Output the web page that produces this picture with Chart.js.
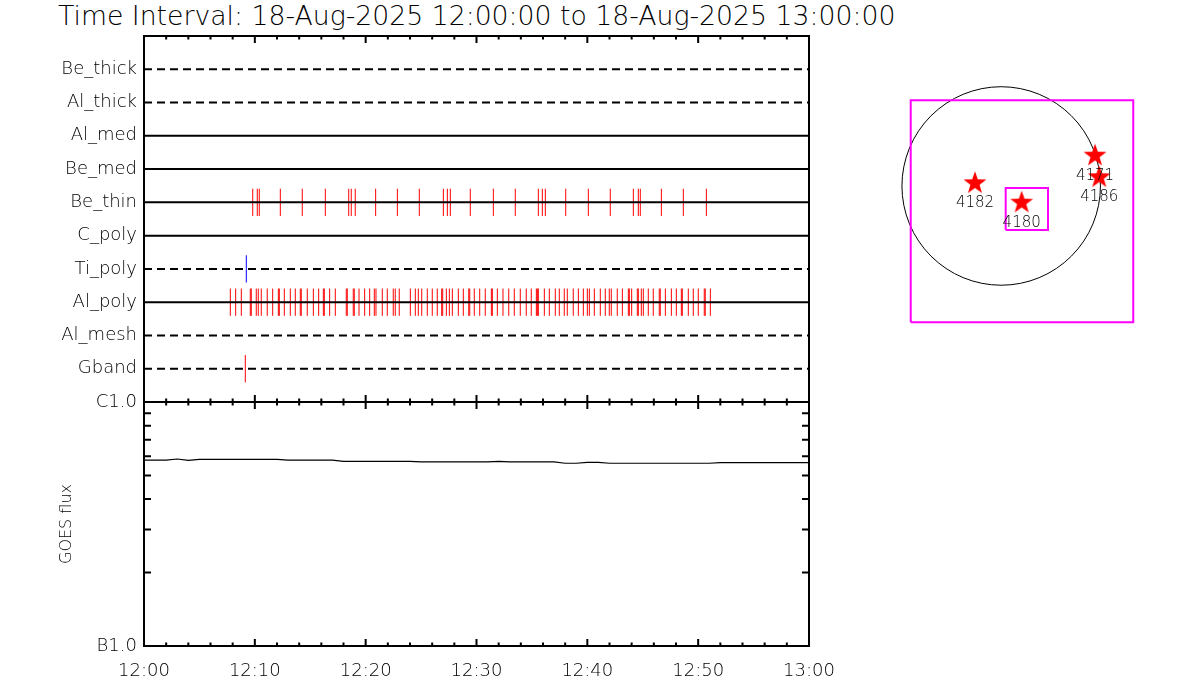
<!DOCTYPE html>
<html>
<head>
<meta charset="utf-8">
<script src="https://cdn.jsdelivr.net/npm/chart.js@4"></script>
<style>
body { margin: 0; width: 1200px; height: 700px; background: #fff; position: relative; overflow: hidden; font-family: 'DejaVu Sans'; }
canvas { position: absolute; }
#title { position: absolute; left: 58px; top: 3px; font-size: 26.7px; font-weight: 200; line-height: 26px; white-space: nowrap; color: #000; }
</style>
</head>
<body>
<div id="title">Time Interval: 18-Aug-2025 12:00:00 to 18-Aug-2025 13:00:00</div>
<canvas id="filterChart" width="860" height="404" style="left:0;top:0"></canvas>
<canvas id="goesChart" width="860" height="320" style="left:0;top:380px"></canvas>
<canvas id="sunChart" width="280" height="280" style="left:880px;top:70px"></canvas>
<script>
/* filter rows, top to bottom */
const rowNames = ['Be_thick', 'Al_thick', 'Al_med', 'Be_med', 'Be_thin', 'C_poly', 'Ti_poly', 'Al_poly', 'Al_mesh', 'Gband'];
const rowDashed = [true, true, false, false, false, false, true, false, true, true];

/* exposure times, minutes after 12:00 */
const beThinTimes = [9.81, 10.22, 10.40, 12.30, 14.28, 16.36, 18.47, 18.70, 19.06, 20.90, 22.86, 24.84,
    27.01, 27.37, 27.64, 29.44, 31.52, 33.50, 35.58, 35.94, 36.21, 38.05, 40.09, 42.07, 44.15, 44.60,
    44.78, 46.68, 48.66, 50.74];
const alPolyTimes = [7.79, 8.27, 8.78, 9.59, 9.68, 10.13, 10.31, 10.58, 11.12, 11.61, 12.12, 12.21, 12.66,
    13.20, 13.65, 14.10, 14.19, 14.73, 15.28, 15.76, 16.18, 16.27, 16.75, 17.26, 18.25, 18.34, 18.88,
    18.97, 19.40, 19.91, 20.36, 20.78, 20.93, 21.50, 21.95, 22.49, 22.67, 23.03, 24.03, 24.48, 24.75,
    25.06, 25.56, 26.01, 26.46, 26.86, 26.95, 27.28, 27.55, 27.82, 28.36, 28.81, 29.30, 29.39, 29.80,
    30.29, 30.79, 31.34, 31.43, 31.88, 32.39, 32.91, 33.41, 33.95, 34.49, 34.94, 35.40, 35.49, 35.58,
    36.12, 36.57, 37.11, 37.47, 37.92, 38.19, 38.73, 39.19, 39.64, 40.00, 40.18, 40.63, 41.17, 41.62,
    41.98, 42.16, 42.70, 43.16, 43.70, 43.79, 44.00, 44.51, 44.60, 44.87, 45.05, 45.50, 45.95, 46.49,
    46.58, 47.04, 47.58, 48.03, 48.48, 48.57, 49.11, 49.56, 50.01, 50.55, 50.64, 51.10];
const tiPolyTimes = [9.23];
const gbandTimes = [9.14];

/* time axis */
const timeTickMinutes = [0, 10, 20, 30, 40, 50, 60];
const timeTickLabels = ['12:00', '12:10', '12:20', '12:30', '12:40', '12:50', '13:00'];

/* GOES 1-8 A flux, one value per minute */
const goesMinutes = [0, 1, 2, 3, 4, 5, 6, 7, 8, 9, 10, 11, 12, 13, 14, 15, 16, 17, 18, 19, 20, 21, 22, 23,
    24, 25, 26, 27, 28, 29, 30, 31, 32, 33, 34, 35, 36, 37, 38, 39, 40, 41, 42, 43, 44, 45, 46, 47, 48,
    49, 50, 51, 52, 53, 54, 55, 56, 57, 58, 59, 60];
const goesFlux = [5.78e-7, 5.78e-7, 5.78e-7, 5.84e-7, 5.77e-7, 5.82e-7, 5.82e-7, 5.82e-7, 5.82e-7, 5.82e-7,
    5.82e-7, 5.82e-7, 5.82e-7, 5.78e-7, 5.78e-7, 5.78e-7, 5.78e-7, 5.78e-7, 5.71e-7, 5.71e-7, 5.71e-7,
    5.71e-7, 5.71e-7, 5.71e-7, 5.71e-7, 5.68e-7, 5.68e-7, 5.68e-7, 5.68e-7, 5.68e-7, 5.68e-7, 5.68e-7,
    5.71e-7, 5.68e-7, 5.68e-7, 5.68e-7, 5.68e-7, 5.68e-7, 5.61e-7, 5.61e-7, 5.66e-7, 5.66e-7, 5.61e-7,
    5.61e-7, 5.61e-7, 5.61e-7, 5.61e-7, 5.61e-7, 5.61e-7, 5.61e-7, 5.61e-7, 5.61e-7, 5.64e-7, 5.64e-7,
    5.64e-7, 5.64e-7, 5.64e-7, 5.64e-7, 5.64e-7, 5.64e-7, 5.64e-7];
const goesTickValues = [1e-7, 1e-6];
const goesTickLabels = ['B1.0', 'C1.0'];
const goesMinorTicks = [2e-7, 3e-7, 4e-7, 5e-7, 6e-7, 7e-7, 8e-7, 9e-7];

/* solar map, arcsec from disk centre */
const sunRadius = 950;
const regionNumbers = ['4182', '4180', '4171', '4186'];
const regionX = [-251, 196, 898, 939];
const regionY = [26, -160, 290, 83];
const fovXMin = [-866, 43];
const fovXMax = [1264, 448];
const fovYMin = [-1305, -421];
const fovYMax = [820, -19];

Chart.defaults.font.family = "'DejaVu Sans'";
Chart.defaults.font.weight = 200;
Chart.defaults.color = '#000';

const TICK_HALF = 0.41;

/* frame with inward IDL style ticks */
const framePlugin = {
    id: 'frame',
    afterDatasetsDraw(chart, args, opts) {
        const {ctx, chartArea: a, scales} = chart;
        ctx.save();
        ctx.strokeStyle = '#000';
        ctx.lineWidth = 2;
        ctx.strokeRect(a.left, a.top, a.right - a.left, a.bottom - a.top);
        ctx.beginPath();
        for (let m = 0; m <= 60; m += 2) {
            const px = scales.x.getPixelForValue(m);
            const len = m % 10 === 0 ? 7 : 3.5;
            ctx.moveTo(px, a.top);
            ctx.lineTo(px, a.top + len);
            ctx.moveTo(px, a.bottom);
            ctx.lineTo(px, a.bottom - len);
        }
        for (const v of (opts.yMinor || [])) {
            const py = scales.y.getPixelForValue(v);
            ctx.moveTo(a.left, py);
            ctx.lineTo(a.left + 7, py);
            ctx.moveTo(a.right, py);
            ctx.lineTo(a.right - 7, py);
        }
        ctx.stroke();
        ctx.restore();
    }
};

function tickSegments(times, row) {
    const pts = [];
    for (const t of times) {
        pts.push({x: t, y: row - TICK_HALF}, {x: t, y: row + TICK_HALF}, {x: t, y: null});
    }
    return pts;
}

const rowValue = (name) => rowNames.length - rowNames.indexOf(name);

/* fixed axis sizes so the panels line up */
const fixWidth = (w) => (scale) => { scale.width = w; scale.paddingTop = 0; scale.paddingBottom = 0; };
const fixHeight = (h) => (scale) => { scale.height = h; scale.paddingLeft = 0; scale.paddingRight = 0; };

const filterDatasets = [];
rowNames.forEach((name, i) => {
    const v = rowValue(name);
    filterDatasets.push({
        data: [{x: 0, y: v}, {x: 60, y: v}],
        borderColor: '#000',
        borderWidth: 2,
        borderDash: rowDashed[i] ? [8, 5] : [],
        pointRadius: 0,
        order: 0
    });
});
const events = [
    {name: 'Be_thin', times: beThinTimes, color: '#ff0000'},
    {name: 'Ti_poly', times: tiPolyTimes, color: '#0000ff'},
    {name: 'Al_poly', times: alPolyTimes, color: '#ff0000'},
    {name: 'Gband', times: gbandTimes, color: '#ff0000'}
];
events.forEach(ev => {
    filterDatasets.push({
        data: tickSegments(ev.times, rowValue(ev.name)),
        borderColor: ev.color,
        borderWidth: 1,
        pointRadius: 0,
        spanGaps: false,
        order: 1
    });
});

new Chart(document.getElementById('filterChart'), {
    type: 'line',
    data: {datasets: filterDatasets},
    plugins: [framePlugin],
    options: {
        responsive: false,
        animation: false,
        events: [],
        layout: {autoPadding: false, padding: {left: 0, top: 36, right: 51, bottom: 2}},
        scales: {
            x: {type: 'linear', min: 0, max: 60, display: false},
            y: {
                type: 'linear',
                min: 0,
                max: 11,
                grid: {display: false, drawTicks: false, tickLength: 0},
                border: {display: false},
                afterBuildTicks: (scale) => {
                    scale.ticks = rowNames.map(n => ({value: rowValue(n)}));
                },
                afterFit: fixWidth(144),
                ticks: {
                    padding: 7,
                    font: {size: 18},
                    callback: (v) => rowNames[rowNames.length - v]
                }
            }
        },
        plugins: {legend: {display: false}, tooltip: {enabled: false}}
    }
});

new Chart(document.getElementById('goesChart'), {
    type: 'line',
    data: {
        datasets: [{
            data: goesMinutes.map((m, i) => ({x: m, y: goesFlux[i]})),
            borderColor: '#000',
            borderWidth: 1.2,
            pointRadius: 0
        }]
    },
    plugins: [framePlugin],
    options: {
        responsive: false,
        animation: false,
        events: [],
        layout: {autoPadding: false, padding: {left: 0, top: 22, right: 51, bottom: 0}},
        scales: {
            x: {
                type: 'linear',
                min: 0,
                max: 60,
                grid: {display: false, drawTicks: false, tickLength: 0},
                border: {display: false},
                afterBuildTicks: (scale) => {
                    scale.ticks = timeTickMinutes.map(v => ({value: v}));
                },
                afterFit: fixHeight(54),
                ticks: {
                    padding: 15,
                    maxRotation: 0,
                    autoSkip: false,
                    font: {size: 18},
                    callback: (v) => timeTickLabels[timeTickMinutes.indexOf(v)]
                }
            },
            y: {
                type: 'logarithmic',
                min: 1e-7,
                max: 1e-6,
                grid: {display: false, drawTicks: false, tickLength: 0},
                border: {display: false},
                afterBuildTicks: (scale) => {
                    scale.ticks = goesTickValues.map(v => ({value: v}));
                },
                afterFit: fixWidth(144),
                ticks: {
                    padding: 7,
                    font: {size: 18},
                    callback: (v) => goesTickLabels[goesTickValues.indexOf(v)]
                },
                title: {
                    display: true,
                    text: 'GOES flux',
                    font: {size: 16},
                    padding: {top: 57, bottom: 0}
                }
            }
        },
        plugins: {
            legend: {display: false},
            tooltip: {enabled: false},
            frame: {yMinor: goesMinorTicks}
        }
    }
});

/* filled five point star for the region markers */
function makeStar(rOut, rIn, color) {
    const c = document.createElement('canvas');
    const size = Math.ceil(rOut * 2) + 2;
    c.width = c.height = size;
    const g = c.getContext('2d');
    g.fillStyle = color;
    g.beginPath();
    for (let i = 0; i < 10; i++) {
        const r = i % 2 ? rIn : rOut;
        const ang = -Math.PI / 2 + i * Math.PI / 5;
        g.lineTo(size / 2 + r * Math.cos(ang), size / 2 + r * Math.sin(ang));
    }
    g.closePath();
    g.fill();
    return c;
}

const limbPlugin = {
    id: 'limb',
    beforeDatasetsDraw(chart) {
        const {ctx, scales: {x, y}} = chart;
        const cx = x.getPixelForValue(0);
        const cy = y.getPixelForValue(0);
        const r = x.getPixelForValue(sunRadius) - cx;
        ctx.save();
        ctx.strokeStyle = '#000';
        ctx.lineWidth = 1;
        ctx.beginPath();
        ctx.arc(cx, cy, r, 0, 2 * Math.PI);
        ctx.stroke();
        ctx.restore();
    }
};

const regionLabelPlugin = {
    id: 'regionLabels',
    afterDatasetsDraw(chart) {
        const {ctx} = chart;
        const meta = chart.getDatasetMeta(fovXMin.length);
        ctx.save();
        ctx.fillStyle = '#000';
        ctx.font = "200 15px 'DejaVu Sans'";
        ctx.textAlign = 'center';
        ctx.textBaseline = 'middle';
        meta.data.forEach((pt, i) => {
            ctx.fillText(regionNumbers[i], pt.x, pt.y + 20);
        });
        ctx.restore();
    }
};

const sunDatasets = fovXMin.map((x0, i) => ({
    data: [
        {x: x0, y: fovYMin[i]}, {x: fovXMax[i], y: fovYMin[i]},
        {x: fovXMax[i], y: fovYMax[i]}, {x: x0, y: fovYMax[i]}, {x: x0, y: fovYMin[i]}
    ],
    showLine: true,
    borderColor: '#ff00ff',
    borderWidth: 2,
    pointRadius: 0,
    order: 1
}));
sunDatasets.push({
    data: regionX.map((x, i) => ({x: x, y: regionY[i]})),
    showLine: false,
    pointStyle: makeStar(12, 4.8, '#ff0000'),
    order: 0
});

new Chart(document.getElementById('sunChart'), {
    type: 'scatter',
    data: {datasets: sunDatasets},
    plugins: [limbPlugin, regionLabelPlugin],
    options: {
        responsive: false,
        animation: false,
        events: [],
        layout: {autoPadding: false, padding: 0},
        scales: {
            x: {type: 'linear', min: -1160, max: 1520, display: false},
            y: {type: 'linear', min: -1570, max: 1110, display: false}
        },
        plugins: {legend: {display: false}, tooltip: {enabled: false}}
    }
});
</script>
</body>
</html>
